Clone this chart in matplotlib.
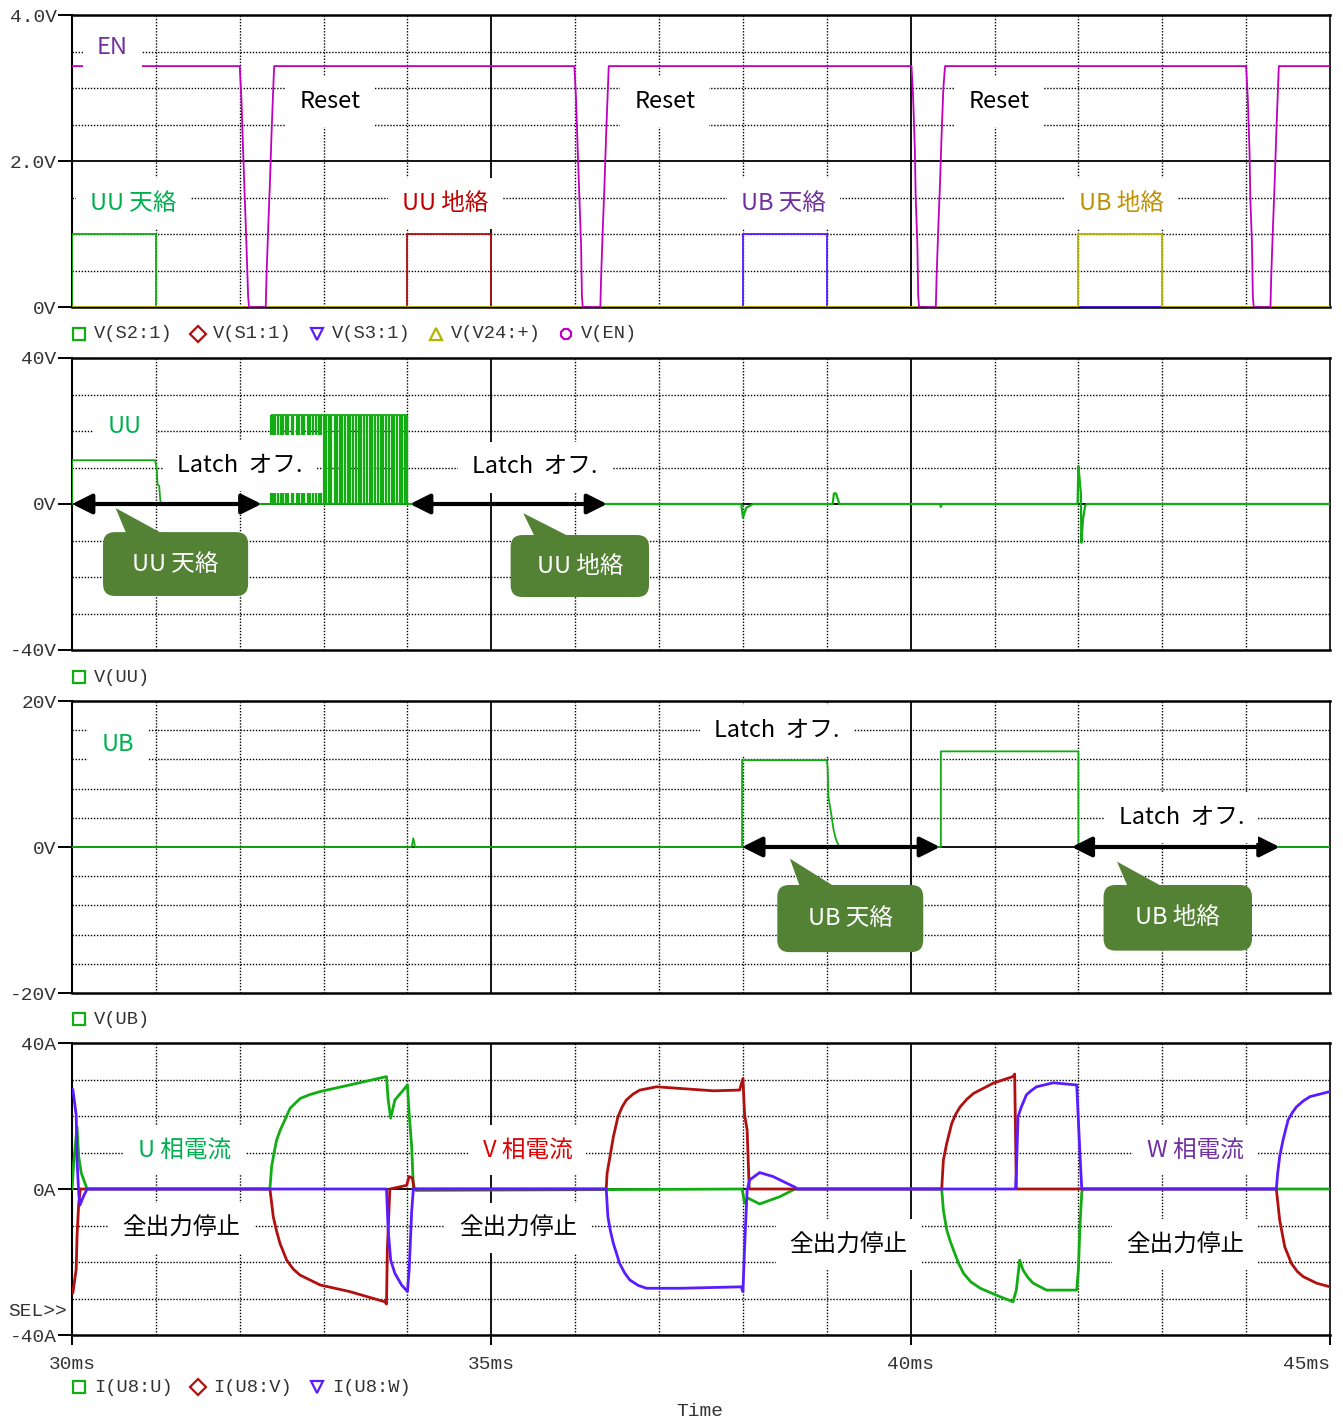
import numpy as np
import matplotlib.pyplot as plt
from matplotlib.patches import FancyBboxPatch, Polygon
from matplotlib.lines import Line2D

plt.rcParams['font.family'] = ['Noto Sans CJK JP', 'DejaVu Sans']
plt.rcParams['axes.unicode_minus'] = False

MONO = 'Liberation Mono'
C_GRN = '#12ad12'
C_RED = '#b01010'
C_BLU = '#5a1cff'
C_OLV = '#b4b400'
C_MAG = '#c000c0'
C_CALL = '#548235'

# ---- panel 1: switch signals and enable ----
s2_t = [30.0, 30.0, 31.0, 31.0, 45.0]
s2_v = [0, 1.0, 1.0, 0, 0]
s1_t = [30.0, 34.0, 34.0, 35.0, 35.0, 45.0]
s1_v = [0, 0, 1.0, 1.0, 0, 0]
s3_t = [30.0, 38.0, 38.0, 39.0, 39.0, 45.0]
s3_v = [0, 0, 1.0, 1.0, 0, 0]
v24_t = [30.0, 42.0, 42.0, 43.0, 43.0, 45.0]
v24_v = [0, 0, 1.0, 1.0, 0, 0]

en_t = [30.0,
        32.00, 32.02, 32.04, 32.06, 32.08, 32.10, 32.11, 32.31, 32.32, 32.34, 32.36, 32.38, 32.40, 32.41,
        35.99, 36.01, 36.03, 36.05, 36.07, 36.08, 36.09, 36.30, 36.31, 36.33, 36.35, 36.37, 36.39, 36.40,
        40.01, 40.03, 40.05, 40.06, 40.08, 40.09, 40.10, 40.30, 40.31, 40.33, 40.35, 40.37, 40.39, 40.41,
        44.00, 44.02, 44.04, 44.05, 44.07, 44.08, 44.09, 44.29, 44.30, 44.32, 44.34, 44.36, 44.38, 44.39,
        45.0]
en_v = [3.3,
        3.3, 2.85, 2.15, 1.5, 0.85, 0.15, 0, 0, 0.45, 1.1, 1.7, 2.4, 3.0, 3.3,
        3.3, 2.85, 2.15, 1.5, 0.85, 0.15, 0, 0, 0.45, 1.1, 1.7, 2.4, 3.0, 3.3,
        3.3, 2.85, 2.15, 1.5, 0.85, 0.15, 0, 0, 0.45, 1.1, 1.7, 2.4, 3.0, 3.3,
        3.3, 2.85, 2.15, 1.5, 0.85, 0.15, 0, 0, 0.45, 1.1, 1.7, 2.4, 3.0, 3.3,
        3.3]

# ---- panel 2: V(UU) ----
uu_t = [30.0, 30.0, 30.99, 31.01, 31.02, 31.04, 31.05, 31.06, 32.36]
uu_v = [0, 12.0, 12.0, 9.9, 5.4, 4.9, 1.7, 0, 0]
uu_sw_hi = 24.3
uu_sw_a = [32.37, 32.40, 32.42, 32.46, 32.49, 32.52, 32.55, 32.58, 32.62, 32.64,
           32.68, 32.71, 32.74, 32.77, 32.81, 32.84, 32.87, 32.91, 32.94, 32.97]
uu_sw_b = [33.00, 33.03, 33.06, 33.09, 33.13, 33.16, 33.19, 33.22, 33.26, 33.29,
           33.32, 33.35, 33.39, 33.42, 33.45, 33.48, 33.52, 33.55, 33.58, 33.61,
           33.65, 33.68, 33.71, 33.74, 33.78, 33.81, 33.84, 33.87, 33.91, 33.94,
           33.97, 34.00]
uu_tail_t = [34.0, 37.98, 38.00, 38.04, 38.12, 39.07, 39.085, 39.11, 39.15,
             40.35, 40.36, 40.37, 41.99, 42.00, 42.02, 42.03, 42.035, 42.055, 42.08, 42.10, 45.0]
uu_tail_v = [0, 0, -3.7, -1.0, 0, 0, 2.9, 2.9, 0,
             0, -0.8, 0, 0, 10.4, 5.4, 2.7, -10.6, -4.2, -0.5, 0, 0]

# ---- panel 3: V(UB) ----
ub_t = [30.0, 34.05, 34.07, 34.09, 37.99, 37.99, 39.00, 39.01, 39.02, 39.06, 39.08, 39.11, 39.15,
        40.36, 40.36, 42.00, 42.00, 45.0]
ub_v = [0, 0, 1.2, 0, 0, 11.9, 11.9, 10.9, 6.8, 4.0, 2.4, 1.0, 0,
        0, 13.1, 13.1, 0, 0]

# ---- panel 4: phase currents ----
iu_t = [30.0, 30.02, 30.06, 30.08, 30.11, 30.18, 32.36, 32.38, 32.41, 32.44, 32.48, 32.52, 32.60,
        32.72, 32.84, 32.96, 33.31, 33.75, 33.77, 33.80, 33.85, 33.95, 34.00, 34.02, 34.05, 34.07, 34.10,
        37.99, 38.02, 38.06, 38.20, 38.44, 38.62,
        40.37, 40.39, 40.43, 40.47, 40.51, 40.57, 40.63, 40.72, 40.83, 41.065, 41.22, 41.26, 41.30,
        41.34, 41.40, 41.46, 41.62, 41.98, 42.00, 42.02, 42.04, 42.05, 45.0]
iu_v = [0, 7.0, 17.0, 8.9, 4.4, 0, 0, 6.1, 10.0, 13.4, 16.0, 18.0, 22.1,
        24.8, 25.9, 26.7, 28.5, 30.8, 24.4, 19.4, 24.4, 27.1, 28.5, 20.7, 11.6, 0.5, -0.4,
        0, -3.9, -2.5, -4.1, -2.1, 0,
        0, -5.8, -11.2, -14.2, -16.7, -20.3, -23.1, -25.5, -27.2, -29.5, -30.9, -27.7, -19.5,
        -22.2, -24.3, -25.8, -27.7, -27.7, -22.0, -9.4, -1.0, 0, 0]

iv_t = [30.0, 30.01, 30.05, 30.06, 30.08, 30.10, 32.36, 32.40, 32.44, 32.48, 32.56, 32.64, 32.72, 32.96,
        33.31, 33.73, 33.75, 33.76, 33.79, 33.99, 34.02, 34.06, 34.08,
        36.37, 36.38, 36.415, 36.455, 36.51, 36.56, 36.61, 36.69, 36.77, 36.97, 37.65, 37.96,
        38.00, 38.02, 38.05, 38.075,
        40.37, 40.39, 40.43, 40.49, 40.54, 40.59, 40.67, 40.75, 40.985, 41.22, 41.24, 41.26,
        44.36, 44.40, 44.46, 44.54, 44.61, 44.68, 44.84, 45.0]
iv_v = [-27.7, -28.5, -22.0, -13.0, -4.0, 0, 0, -7.6, -11.6, -14.9, -19.5, -22.0, -23.6, -26.3,
        -28.1, -30.9, -31.5, -16.7, 0, 1.0, 3.4, 3.0, 0,
        0, 4.3, 8.9, 14.3, 19.8, 22.5, 24.4, 26.0, 27.1, 28.0, 26.9, 27.1,
        30.3, 20.3, 16.2, 0,
        0, 7.9, 12.5, 18.0, 20.6, 22.5, 24.6, 26.2, 29.0, 30.8, 31.5, 0,
        0, -8.5, -15.8, -20.4, -22.6, -24.0, -25.8, -26.8]

iw_t = [30.0, 30.01, 30.05, 30.06, 30.08, 30.095, 30.135, 30.18,
        33.75, 33.77, 33.80, 33.85, 33.93, 34.00, 34.02, 34.05, 34.07,
        36.37, 36.39, 36.42, 36.455, 36.53, 36.59, 36.65, 36.75, 36.85, 37.25, 37.98, 38.00,
        38.02, 38.05, 38.08, 38.20, 38.36, 38.62, 38.65,
        41.25, 41.26, 41.28, 41.32, 41.38, 41.44, 41.50, 41.70, 41.98, 42.02, 42.04,
        44.36, 44.376, 44.40, 44.44, 44.50, 44.55, 44.60, 44.68, 44.76, 45.0]
iw_v = [27.3, 27.3, 20.3, 7.9, -1.1, -4.4, -2.1, 0,
        0, -11.2, -19.5, -23.1, -26.3, -28.1, -22.2, -6.2, 0,
        0, -7.6, -11.5, -14.9, -20.4, -23.0, -24.9, -26.4, -27.2, -27.2, -26.8, -28.1,
        -15.8, -0.3, 2.5, 4.5, 3.4, 0.5, 0,
        0, 4.3, 19.8, 22.5, 25.8, 27.0, 28.0, 29.1, 28.5, 8.9, 0,
        0, 4.3, 8.9, 13.4, 18.9, 20.9, 22.5, 24.1, 25.3, 26.7]

# ---- layout in pixels ----
W, H = 1343, 1418
X0, X1 = 72, 1330


def fx(px):
    return px / W


def fy(py):
    return 1 - py / H


fig = plt.figure(figsize=(W / 100, H / 100), dpi=100)

panels = [
    (15, 307, (0, 4.0), 0.5, ['0V', '2.0V', '4.0V']),
    (358, 650, (-40, 40), 10, ['-40V', '0V', '40V']),
    (701, 993, (-20, 20), 4, ['-20V', '0V', '20V']),
    (1043, 1335, (-40, 40), 10, ['-40A', '0A', '40A']),
]

axes = []
for top, bot, (lo, hi), step, labels in panels:
    ax = fig.add_axes([fx(X0), fy(bot), fx(X1 - X0), (bot - top) / H])
    ax.set_xlim(30, 45)
    ax.set_ylim(lo, hi)
    mid = (lo + hi) / 2
    for t in range(31, 45):
        if t in (35, 40):
            ax.axvline(t, color='k', lw=1.3, zorder=1)
        else:
            ax.axvline(t, color='k', lw=1.0, ls=(0, (1, 1.2)), zorder=1)
    for y in np.arange(lo + step, hi, step):
        if abs(y - mid) < 1e-9:
            ax.axhline(y, color='k', lw=1.3, zorder=1)
        else:
            ax.axhline(y, color='k', lw=1.0, ls=(0, (1, 1.2)), zorder=1)
    for side in ('top', 'bottom'):
        ax.spines[side].set_linewidth(1.8)
    ax.spines['left'].set_linewidth(1.5)
    ax.spines['right'].set_linewidth(1.2)
    ax.set_yticks([lo, mid, hi], labels)
    ax.tick_params(axis='y', direction='out', length=10, width=1.4, pad=1,
                   labelsize=14, labelcolor='#333333')
    for lab in ax.get_yticklabels():
        lab.set_fontfamily(MONO)
    ax.set_xticks([])
    axes.append(ax)

ax1, ax2, ax3, ax4 = axes

# bottom time axis
ax4.set_xticks([30, 35, 40, 45], ['30ms', '35ms', '40ms', '45ms'])
ax4.tick_params(axis='x', direction='out', length=7, width=1.4, pad=8,
                labelsize=14, labelcolor='#333333')
for lab in ax4.get_xticklabels():
    lab.set_fontfamily(MONO)
ax4.get_xticklabels()[-1].set_ha('right')

# ---- traces ----
LW = 1.3
ax1.plot(s2_t, s2_v, color=C_GRN, lw=LW, zorder=3)
ax1.plot(s1_t, s1_v, color=C_RED, lw=LW, zorder=3)
ax1.plot(s3_t, s3_v, color=C_BLU, lw=LW, zorder=3)
ax1.plot(v24_t, v24_v, color=C_OLV, lw=LW, zorder=3)
ax1.plot(en_t, en_v, color=C_MAG, lw=LW, zorder=4)

ax2.plot(uu_t, uu_v, color=C_GRN, lw=LW, zorder=3)
ax2.hlines([0, uu_sw_hi], uu_sw_a[0], uu_sw_b[-1], color=C_GRN, lw=LW, zorder=3)
ax2.vlines(uu_sw_a, 0, 3.0, color=C_GRN, lw=1.6, zorder=3)
ax2.vlines(uu_sw_a, 19.0, uu_sw_hi, color=C_GRN, lw=1.6, zorder=3)
ax2.vlines(uu_sw_b, 0, uu_sw_hi, color=C_GRN, lw=1.6, zorder=3)
ax2.plot(uu_tail_t, uu_tail_v, color=C_GRN, lw=1.6, zorder=3)

ax3.plot(ub_t, ub_v, color=C_GRN, lw=LW, zorder=3)

# ripple-heavy currents drawn a bit heavier
ax4.plot(iu_t, iu_v, color=C_GRN, lw=2.0, zorder=3)
ax4.plot(iv_t, iv_v, color=C_RED, lw=2.0, zorder=3)
ax4.plot(iw_t, iw_v, color=C_BLU, lw=2.0, zorder=3)


# ---- annotations ----
def note(ax, x, y, s, color='black'):
    ax.text(x, y, s, color=color, fontsize=17, ha='center', va='center', zorder=8,
            bbox=dict(fc='white', ec='none', pad=10))


note(ax1, 30.48, 3.56, 'EN', '#7030a0')
for x in (33.08, 37.07, 41.05):
    note(ax1, x, 2.81, 'Reset')
note(ax1, 30.73, 1.42, 'UU 天絡', '#00b050')
note(ax1, 34.45, 1.42, 'UU 地絡', '#c00000')
note(ax1, 38.48, 1.42, 'UB 天絡', '#7030a0')
note(ax1, 42.51, 1.42, 'UB 地絡', '#bf9000')

note(ax2, 30.63, 21.1, 'UU', '#00b050')
note(ax2, 32.0, 10.4, 'Latch  オフ.')
note(ax2, 35.52, 10.1, 'Latch  オフ.')

note(ax3, 30.55, 14.0, 'UB', '#00b050')
note(ax3, 38.40, 16.0, 'Latch  オフ.')
note(ax3, 43.23, 4.0, 'Latch  オフ.')

note(ax4, 31.34, 10.7, 'U 相電流', '#00b050')
note(ax4, 35.43, 10.7, 'V 相電流', '#e00000')
note(ax4, 43.39, 10.7, 'W 相電流', '#7030a0')
note(ax4, 31.30, -10.7, '全出力停止')
note(ax4, 35.32, -10.7, '全出力停止')
note(ax4, 39.26, -15.3, '全出力停止')
note(ax4, 43.27, -15.3, '全出力停止')


def span_arrow(ax, t0, t1):
    ax.annotate('', xy=(t1, 0), xytext=(t0, 0), zorder=7,
                arrowprops=dict(arrowstyle='<|-|>,head_length=0.6,head_width=0.3',
                                mutation_scale=20, lw=3, color='black',
                                shrinkA=0, shrinkB=0))


span_arrow(ax2, 30.0, 32.26)
span_arrow(ax2, 34.03, 36.38)
span_arrow(ax3, 37.99, 40.35)
span_arrow(ax3, 41.92, 44.40)


def callout(ax, x0, x1, ytop, ybot, tip, base, s):
    lo, hi = ax.get_ylim()
    xpp = 15 / (X1 - X0)
    ypp = (hi - lo) / 292
    r = 12 * xpp
    box = FancyBboxPatch((x0, ybot), x1 - x0, ytop - ybot,
                         boxstyle=f'round,pad=0,rounding_size={r}',
                         mutation_aspect=ypp / xpp, fc=C_CALL, ec='none', zorder=9)
    ax.add_patch(box)
    tri = Polygon([tip, (base[0], ytop - 2 * ypp), (base[1], ytop - 2 * ypp)],
                  closed=True, fc=C_CALL, ec='none', zorder=9)
    ax.add_patch(tri)
    ax.text((x0 + x1) / 2, (ytop + ybot) / 2, s, color='white', fontsize=17,
            ha='center', va='center', zorder=10)


callout(ax2, 30.37, 32.10, -7.7, -25.2, (30.52, -1.1), (30.65, 31.09), 'UU 天絡')
callout(ax2, 35.23, 36.88, -8.5, -25.5, (35.38, -2.5), (35.52, 35.94), 'UU 地絡')
callout(ax3, 38.41, 40.15, -5.2, -14.4, (38.56, -1.6), (38.68, 39.10), 'UB 天絡')
callout(ax3, 42.30, 44.07, -5.2, -14.2, (42.46, -2.0), (42.59, 43.01), 'UB 地絡')


# ---- probe legends under each panel ----
def legend_row(py, items):
    for mx, marker, color, label in items:
        fig.add_artist(Line2D([fx(mx)], [fy(py)], transform=fig.transFigure,
                              marker=marker, ms=8, mfc='none', mec=color, mew=1.6, ls='none'))
        fig.text(fx(mx + 15), fy(py), label, fontsize=13.5, family=MONO,
                 color='#333333', ha='left', va='center')


legend_row(334, [(79, 's', C_GRN, 'V(S2:1)'), (198, 'D', C_RED, 'V(S1:1)'),
                 (317, 'v', C_BLU, 'V(S3:1)'), (436, '^', C_OLV, 'V(V24:+)'),
                 (566, '8', C_MAG, 'V(EN)')])
legend_row(677, [(79, 's', C_GRN, 'V(UU)')])
legend_row(1019, [(79, 's', C_GRN, 'V(UB)')])
legend_row(1387, [(79, 's', C_GRN, 'I(U8:U)'), (198, 'D', C_RED, 'I(U8:V)'),
                  (317, 'v', C_BLU, 'I(U8:W)')])

fig.text(fx(8), fy(1312), 'SEL>>', fontsize=14, family=MONO, color='#333333',
         ha='left', va='center')
fig.text(fx(700), fy(1412), 'Time', fontsize=14, family=MONO, color='#333333',
         ha='center', va='center')

fig.savefig('out.png', dpi=100)
